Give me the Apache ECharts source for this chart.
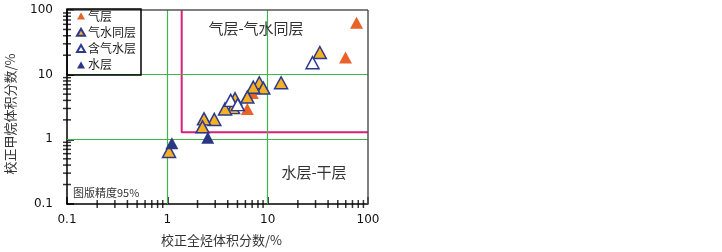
<!DOCTYPE html>
<html><head><meta charset="utf-8">
<script src="https://cdn.jsdelivr.net/npm/echarts@6/dist/echarts.min.js"></script>
<style>html,body{margin:0;padding:0;background:#fff}#c{width:722px;height:252px}</style>
</head><body><div id="c"></div>
<script>
// ---- data ----
const seriesNames = ['气层', '气水同层', '含气水层', '水层'];
const gasLayer = [[76.9, 63.4], [59.7, 18.5], [6.27, 2.95], [7.03, 5.2]];
const gasWaterLayer = [[33.1, 22.0], [13.6, 7.5], [8.25, 7.5], [9.04, 6.2], [7.19, 6.4], [6.27, 4.5],
  [4.73, 4.25], [4.52, 3.09], [3.76, 2.95], [2.94, 2.03], [2.32, 2.07], [2.24, 1.56], [1.04, 0.65]];
const gasBearingWater = [[28.0, 15.3], [4.28, 4.0], [5.03, 3.44]];
const waterLayer = [[1.11, 0.87], [2.53, 1.06]];
const boundaryLine = [[1.39, 100], [1.39, 1.29], [100, 1.29]];
const gridValues = [1, 10];
const frameValues = [100];
const xTickLabels = ['0.1', '1', '10', '100'];
const yTickLabels = ['0.1', '1', '10', '100'];
const decades = [0.1, 1, 10];
const minorMultipliers = [2, 3, 4, 5, 6, 7, 8, 9];
const xAxisName = '校正全烃体积分数/%';
const yAxisName = '校正甲烷体积分数/%';
const regionLabels = ['气层-气水同层', '水层-干层', '图版精度95%'];

// minor tick values
const minorX = [], minorY = [];
decades.forEach(d => minorMultipliers.forEach(m => {
  minorX.push([d * m, 0.1]);
  minorY.push([0.1, d * m]);
}));

const cjk = '"Noto Sans CJK SC", sans-serif';
const num = '"DejaVu Sans", sans-serif';
const navy = '#2d3a8c';
const fmt = list => v => list.find(t => Math.abs(parseFloat(t) - v) < 1e-6 * Math.max(1, v)) || '';

const chart = echarts.init(document.getElementById('c'), null, {renderer: 'canvas'});

chart.setOption({
  animation: false,
  grid: {left: 67, right: 354, top: 10, bottom: 46},
  xAxis: {
    type: 'log', min: 0.1, max: 100, logBase: 10,
    name: xAxisName, nameLocation: 'middle', nameGap: 30,
    nameTextStyle: {fontFamily: cjk, fontSize: 13, color: '#333', padding: [0, 0, 0, 8]},
    axisLine: {lineStyle: {color: '#000', width: 1.5}},
    axisTick: {inside: true, length: 7, lineStyle: {color: '#000', width: 1.5}},
    axisLabel: {fontFamily: num, fontSize: 12, color: '#111', margin: 10, formatter: fmt(xTickLabels)},
    splitLine: {show: false}
  },
  yAxis: {
    type: 'log', min: 0.1, max: 100, logBase: 10,
    name: yAxisName, nameLocation: 'middle', nameGap: 50,
    nameTextStyle: {fontFamily: cjk, fontSize: 13, color: '#333', padding: [0, 14, 0, 0]},
    axisLine: {lineStyle: {color: '#000', width: 1.5}},
    axisTick: {inside: true, length: 7, lineStyle: {color: '#000', width: 1.5}},
    axisLabel: {fontFamily: num, fontSize: 12, color: '#111', margin: 14, formatter: fmt(yTickLabels)},
    splitLine: {show: false}
  },
  legend: {
    orient: 'vertical', left: 76, top: 9.5, padding: 0, itemGap: 3.3,
    itemWidth: 8, itemHeight: 7, z: 60,
    data: seriesNames.map(n => ({name: n, icon: 'triangle'})),
    textStyle: {fontFamily: cjk, fontSize: 12, color: '#222', lineHeight: 13, padding: [0, 0, 0, -2]}
  },
  graphic: [
    {type: 'rect', z: 50, shape: {x: 67, y: 9, width: 74, height: 66},
      style: {fill: 'transparent', stroke: '#000', lineWidth: 1.5}},
    {type: 'text', x: 256, y: 28, z: 40, style: {text: regionLabels[0], font: '15px ' + cjk, fill: '#333', textAlign: 'center', textVerticalAlign: 'middle'}},
    {type: 'text', x: 314, y: 172, z: 40, style: {text: regionLabels[1], font: '15px ' + cjk, fill: '#333', textAlign: 'center', textVerticalAlign: 'middle'}},
    {type: 'text', x: 73, y: 193, z: 40, style: {text: regionLabels[2], font: '11px ' + cjk, fill: '#333', textAlign: 'left', textVerticalAlign: 'middle'}}
  ],
  series: [
    {type: 'line', data: boundaryLine, showSymbol: false, silent: true, z: 3,
      lineStyle: {color: '#d4237a', width: 2},
      markLine: {silent: true, symbol: 'none', label: {show: false},
        lineStyle: {color: '#3fb54a', width: 1.2, type: 'solid'},
        data: gridValues.map(v => ({xAxis: v})).concat(gridValues.map(v => ({yAxis: v})))
          .concat(frameValues.map(v => ({xAxis: v, lineStyle: {color: '#555', width: 1.5}})))
          .concat(frameValues.map(v => ({yAxis: v, lineStyle: {color: '#555', width: 1.5}})))}
    },
    {name: seriesNames[0], type: 'scatter', data: gasLayer, symbol: 'triangle', symbolSize: [13, 12], z: 5,
      itemStyle: {color: '#e8622a', opacity: 1}},
    {name: seriesNames[1], type: 'scatter', data: gasWaterLayer, symbol: 'triangle', symbolSize: [13, 12], z: 6,
      itemStyle: {color: '#f6b122', borderColor: navy, borderWidth: 1.5, opacity: 1}},
    {name: seriesNames[2], type: 'scatter', data: gasBearingWater, symbol: 'triangle', symbolSize: [13, 12], z: 7,
      itemStyle: {color: '#fff', borderColor: navy, borderWidth: 1.5, opacity: 1}},
    {name: seriesNames[3], type: 'scatter', data: waterLayer, symbol: 'triangle', symbolSize: [13, 12], z: 8,
      itemStyle: {color: '#2b3784', opacity: 1}},
    {type: 'scatter', data: minorX, symbol: 'rect', symbolSize: [1.5, 8],
      itemStyle: {color: '#000'}, z: 70, clip: false},
    {type: 'scatter', data: minorY, symbol: 'rect', symbolSize: [8, 1.5],
      itemStyle: {color: '#000'}, z: 70, clip: false}
  ]
});
</script></body></html>
